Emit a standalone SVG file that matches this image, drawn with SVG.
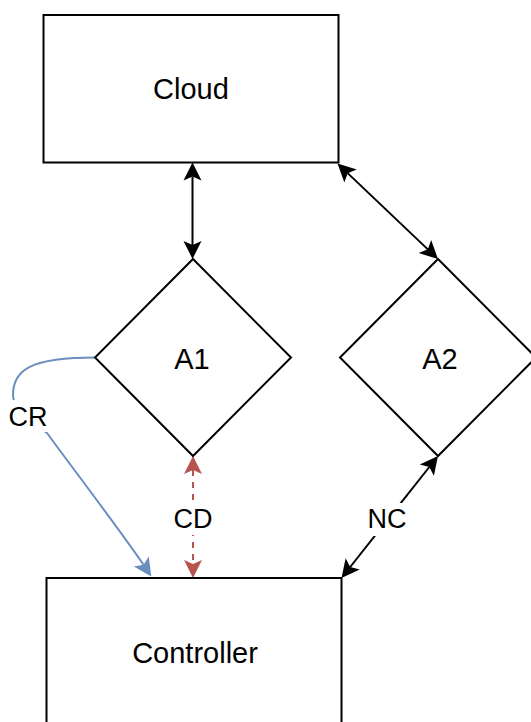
<svg xmlns="http://www.w3.org/2000/svg" width="531" height="722" viewBox="0 0 531 722">
  <style>
    .shape { fill: #ffffff; stroke: #000000; stroke-width: 2; }
    .node-text { font-family: "Liberation Sans", Arial, sans-serif; font-size: 29px; fill: #000000; text-anchor: middle; }
    .edge-label { font-family: "Liberation Sans", Arial, sans-serif; font-size: 27px; fill: #000000; text-anchor: middle; }
    .label-bg { fill: #ffffff; stroke: none; }
    .edge { fill: none; stroke-width: 2; }
    .edge-black { stroke: #000000; marker-start: url(#arrow-black); marker-end: url(#arrow-black); }
    .edge-red { stroke: #b85450; stroke-dasharray: 6 6; marker-start: url(#arrow-red); marker-end: url(#arrow-red); }
    .edge-blue { stroke: #6c8ebf; marker-end: url(#arrow-blue); }
  </style>
  <defs>
    <marker id="arrow-black" markerUnits="userSpaceOnUse" markerWidth="18" markerHeight="18" refX="4" refY="9" orient="auto-start-reverse" overflow="visible">
      <path d="M18,9 L0,0 L4,9 L0,18 Z" fill="#000000"/>
    </marker>
    <marker id="arrow-red" markerUnits="userSpaceOnUse" markerWidth="18" markerHeight="18" refX="4" refY="9" orient="auto-start-reverse" overflow="visible">
      <path d="M18,9 L0,0 L4,9 L0,18 Z" fill="#b85450"/>
    </marker>
    <marker id="arrow-blue" markerUnits="userSpaceOnUse" markerWidth="18" markerHeight="18" refX="4" refY="9" orient="auto" overflow="visible">
      <path d="M18,9 L0,0 L4,9 L0,18 Z" fill="#6c8ebf"/>
    </marker>
  </defs>

  <rect width="531" height="722" fill="#ffffff"/>

  <!-- Connectors -->
  <g id="connectors">
    <!-- Cloud <-> A1 -->
    <line class="edge edge-black" x1="192.5" y1="176.5" x2="192.5" y2="245"/>
    <!-- Cloud <-> A2 -->
    <line class="edge edge-black" x1="347.65" y1="173.15" x2="427.85" y2="249.35"/>
    <!-- A2 <-> Controller (NC) -->
    <line class="edge edge-black" x1="429.3" y1="467" x2="350.2" y2="567"/>
    <!-- A1 <-> Controller (CD) -->
    <line class="edge edge-red" x1="193" y1="470" x2="193" y2="564"/>
    <!-- A1 -> Controller (CR) -->
    <path class="edge edge-blue" d="M96,357.5 C30,357.5 13,370 13,395 C13,410 30,420 47,433 C65,458 120,530 143.5,564.8"/>

    <!-- edge labels -->
    <rect class="label-bg" x="6" y="400" width="44" height="32"/>
    <text class="edge-label" x="28" y="426">CR</text>
    <rect class="label-bg" x="172" y="505" width="42" height="30"/>
    <text class="edge-label" x="193" y="528">CD</text>
    <rect class="label-bg" x="366" y="503" width="42" height="33"/>
    <text class="edge-label" x="387" y="528">NC</text>
  </g>

  <!-- Nodes -->
  <g id="cloud">
    <rect class="shape" x="43.5" y="15" width="295" height="147.5"/>
    <text class="node-text" x="191" y="99">Cloud</text>
  </g>

  <g id="a1">
    <polygon class="shape" points="193,259 291,357.5 193,456 95,357.5"/>
    <text class="node-text" x="192" y="369">A1</text>
  </g>

  <g id="a2">
    <polygon class="shape" points="438,259 536,357.5 438,456 340,357.5"/>
    <text class="node-text" x="440" y="369">A2</text>
  </g>

  <g id="controller">
    <rect class="shape" x="46.5" y="578" width="295" height="147.5"/>
    <text class="node-text" x="195" y="663">Controller</text>
  </g>
</svg>
